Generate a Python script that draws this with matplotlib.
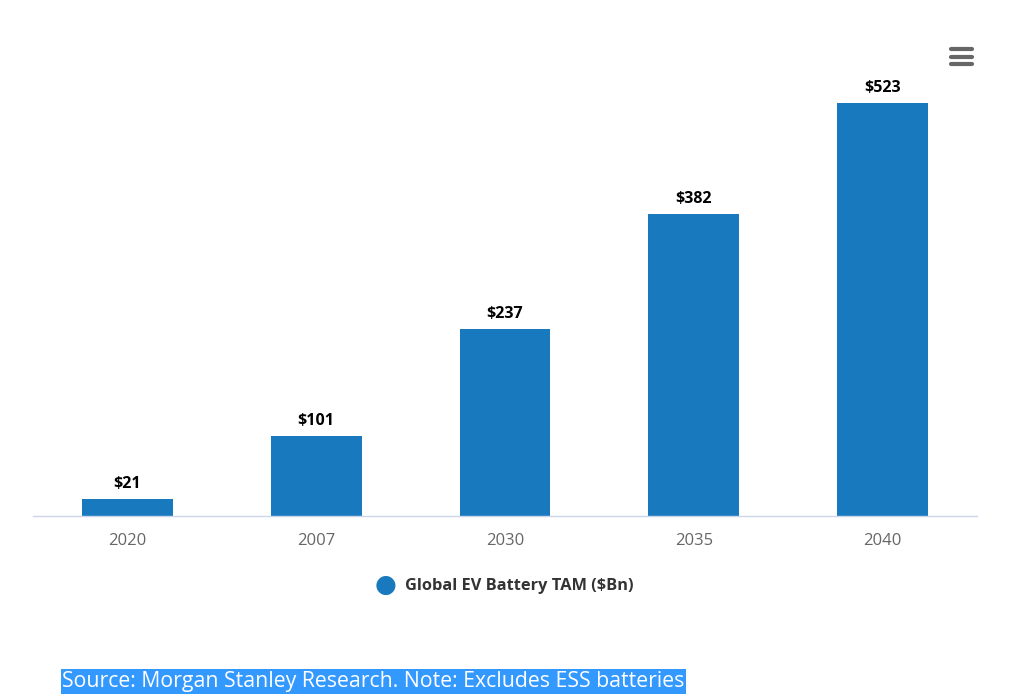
import matplotlib
matplotlib.use('Agg')
import matplotlib.pyplot as plt
from matplotlib.lines import Line2D

years = ['2020', '2007', '2030', '2035', '2040']
tam = [21, 101, 237, 382, 523]
labels = ['$21', '$101', '$237', '$382', '$523']

barColor = '#1879bf'

plt.rcParams['font.family'] = ['Open Sans', 'DejaVu Sans']

fig = plt.figure(figsize=(10.23, 6.99), dpi=100)
ax = fig.add_axes([0.0323, 0.2618, 0.9227, 0.6238])

x = range(len(years))
ax.bar(x, tam, width=0.48, color=barColor, zorder=2)
for i, v in enumerate(tam):
    ax.annotate(labels[i], (i, v), xytext=(0, 5), textcoords='offset points',
                ha='center', va='bottom', fontsize=11.5, fontweight='bold', color='#000000')

ax.set_xlim(-0.5, len(years) - 0.5)
ax.set_ylim(0, 552)
ax.set_xticks(list(x))
ax.set_xticklabels(years, fontsize=12, color='#666666')
ax.tick_params(axis='x', length=0, pad=12)
ax.set_yticks([])
for s in ['top', 'right', 'left']:
    ax.spines[s].set_visible(False)
ax.spines['bottom'].set_color('#ccd6eb')
ax.spines['bottom'].set_linewidth(1)

# legend
fig.text(0.3765, 0.162, '\u25cf', fontsize=18, color=barColor, ha='center', va='center')
fig.text(0.396, 0.161, 'Global EV Battery TAM ($Bn)', fontsize=11.8, fontweight='bold',
         color='#333333', ha='left', va='center')

# menu icon
for yy in [49, 57, 64]:
    fig.add_artist(Line2D([951 / 1023, 972 / 1023], [1 - yy / 699, 1 - yy / 699],
                          color='#666666', linewidth=3, solid_capstyle='round'))

# source note
fig.text(0.061, 0.025, 'Source: Morgan Stanley Research. Note: Excludes ESS batteries',
         fontsize=15.3, color='white', ha='left', va='center',
         bbox=dict(boxstyle='square,pad=0.08', facecolor='#3399ff', edgecolor='none'))

fig.savefig('out.png', dpi=100)
